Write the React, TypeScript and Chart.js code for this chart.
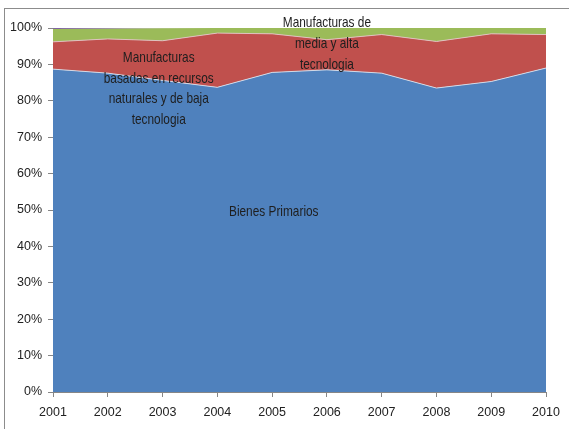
import React, { useEffect, useRef } from "react";
import { Chart, registerables } from "chart.js";

Chart.register(...registerables);

const years = ["2001", "2002", "2003", "2004", "2005", "2006", "2007", "2008", "2009", "2010"];
const bienesPrimarios = [88.7, 87.6, 85.6, 83.7, 87.8, 88.5, 87.6, 83.5, 85.3, 89.0];
const manufBaja = [7.5, 9.4, 10.9, 14.9, 10.6, 8.3, 10.6, 12.8, 13.1, 9.2];
const manufAlta = [3.5, 2.8, 3.4, 1.4, 1.6, 3.2, 1.8, 3.7, 1.6, 1.8];
const otros = [0.3, 0.2, 0.1, 0, 0, 0, 0, 0, 0, 0];
const yTicks = [0, 10, 20, 30, 40, 50, 60, 70, 80, 90, 100];

const labelBaja = ["Manufacturas", "basadas en recursos", "naturales y de baja", "tecnologia"];
const labelAlta = ["Manufacturas de", "media y alta", "tecnologia"];
const labelPrim = ["Bienes Primarios"];

const FONT = "'Liberation Sans', Arial, sans-serif";

const textPlugin = {
  id: "areaLabels",
  afterDatasetsDraw(chart: any) {
    const { ctx, scales } = chart;
    const xs = scales.x;
    const ys = scales.y;
    const draw = (lines: string[], xi: number, yv: number, lh: number) => {
      const cx = xs.getPixelForValue(xi);
      const cy = ys.getPixelForValue(yv);
      ctx.save();
      ctx.font = `15px ${FONT}`;
      ctx.fillStyle = "#1e1e1e";
      ctx.textAlign = "center";
      ctx.textBaseline = "middle";
      lines.forEach((l, i) => {
        ctx.save();
        ctx.translate(cx, cy + i * lh);
        ctx.scale(0.79, 1);
        ctx.fillText(l, 0, 0);
        ctx.restore();
      });
      ctx.restore();
    };
    draw(labelBaja, 1.93, 91.7, 20.5);
    draw(labelAlta, 5.0, 101.3, 20.6);
    draw(labelPrim, 4.03, 49.4, 20);
  },
};

export default function App() {
  const ref = useRef<HTMLCanvasElement | null>(null);
  useEffect(() => {
    if (!ref.current) return;
    const chart = new Chart(ref.current, {
      type: "line",
      data: {
        labels: years,
        datasets: [
          {
            label: "Bienes Primarios",
            data: bienesPrimarios,
            backgroundColor: "#4F81BD",
            borderColor: "rgba(220,225,235,0.9)",
            borderWidth: 1,
            fill: "origin",
            pointRadius: 0,
            tension: 0,
          },
          {
            label: "Manufacturas basadas en recursos naturales y de baja tecnologia",
            data: manufBaja,
            backgroundColor: "#C0504D",
            borderColor: "rgba(225,200,200,0.9)",
            borderWidth: 1,
            fill: "-1",
            pointRadius: 0,
            tension: 0,
          },
          {
            label: "Manufacturas de media y alta tecnologia",
            data: manufAlta,
            backgroundColor: "#9BBB59",
            borderColor: "#9BBB59",
            borderWidth: 0,
            fill: "-1",
            pointRadius: 0,
            tension: 0,
          },
          {
            label: "Otros",
            data: otros,
            backgroundColor: "#8064A2",
            borderColor: "#8064A2",
            borderWidth: 0,
            fill: "-1",
            pointRadius: 0,
            tension: 0,
          },
        ],
      },
      options: {
        animation: false,
        responsive: false,
        maintainAspectRatio: false,
        layout: { padding: { top: 28, right: 23, left: 0, bottom: 0 } },
        plugins: { legend: { display: false }, tooltip: { enabled: false } },
        scales: {
          x: {
            type: "category",
            offset: false,
            grid: { display: true, drawOnChartArea: false, tickLength: 5, color: "#868686" },
            border: { display: true, color: "#868686" },
            ticks: { color: "#222", font: { family: FONT, size: 12.5 }, padding: 8, maxRotation: 0, autoSkip: false },
            afterFit: (s: any) => { s.height = 37; },
          },
          y: {
            stacked: true,
            min: 0,
            max: 100,
            afterBuildTicks: (s: any) => { s.ticks = yTicks.map((v) => ({ value: v })); },
            grid: { display: true, drawOnChartArea: false, tickLength: 5, color: "#868686" },
            border: { display: true, color: "#868686" },
            ticks: {
              color: "#222",
              font: { family: FONT, size: 12.5 },
              padding: 6,
              callback: (v: any) => `${v}%`,
            },
            afterFit: (s: any) => { s.width = 53; },
          },
        },
      },
      plugins: [textPlugin],
    });
    return () => chart.destroy();
  }, []);
  return (
    <div style={{ position: "absolute", left: 0, top: 0, width: 569, height: 429, background: "#fff", overflow: "hidden" }}>
      <div style={{ position: "absolute", left: 4, top: 8, width: 600, height: 500, borderLeft: "1px solid #8c8c8c", borderTop: "1px solid #8c8c8c" }} />
      <canvas ref={ref} width={569} height={429} style={{ position: "absolute", left: 0, top: 0 }} />
    </div>
  );
}
